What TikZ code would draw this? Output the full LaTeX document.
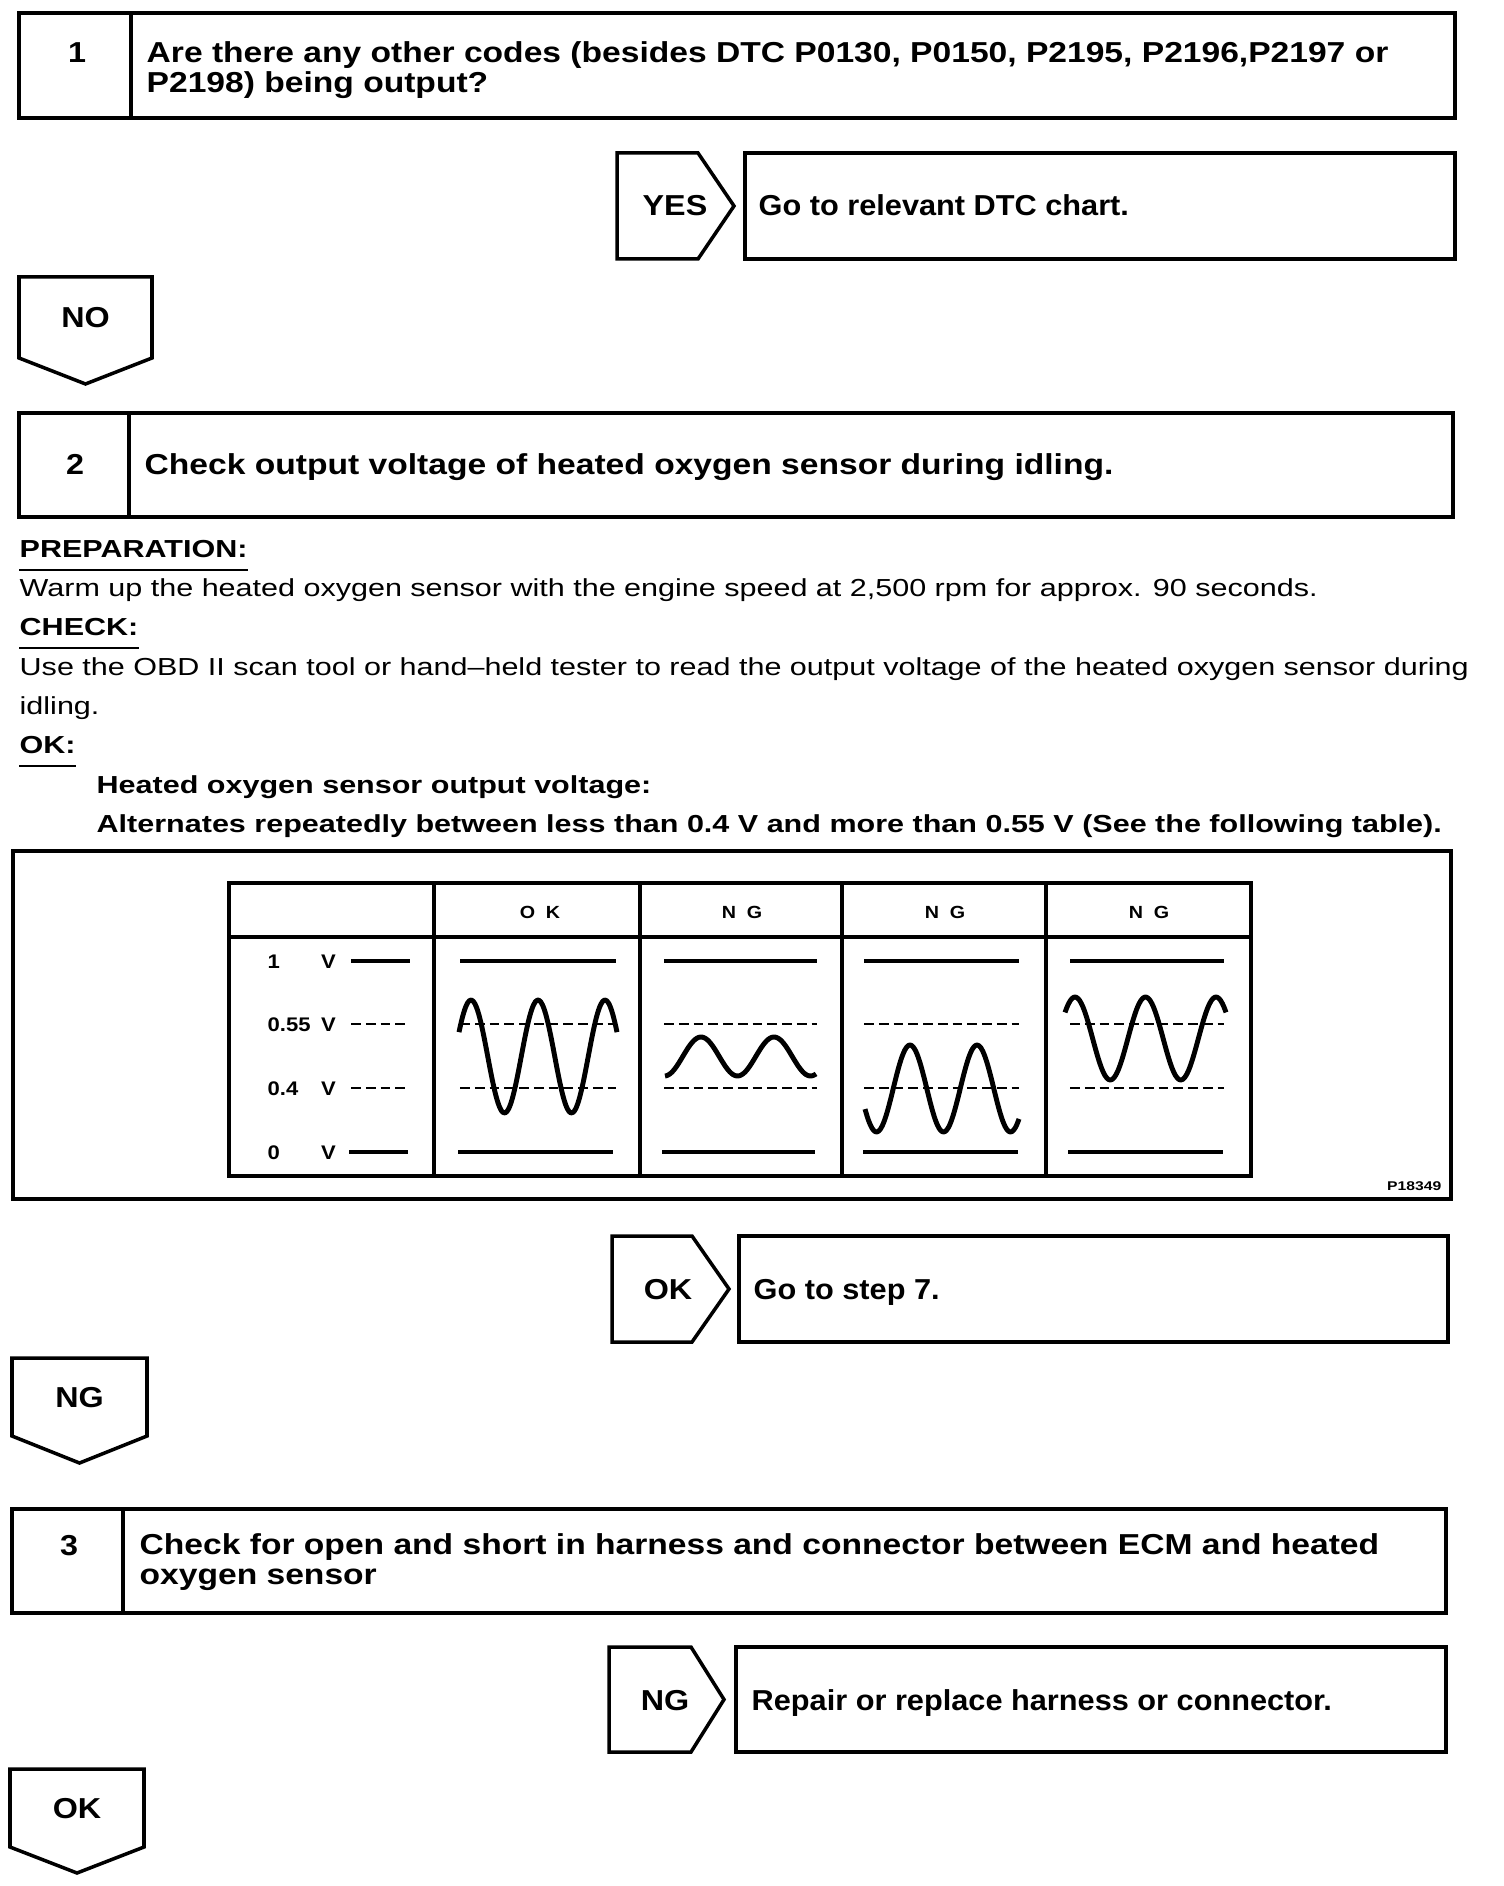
\documentclass[tikz,border=0pt]{standalone}
\usepackage{fontspec}
\setmainfont{Liberation Sans}[FakeStretch=1.12]
\newfontfamily\widefont{Liberation Sans}[FakeStretch=1.24]
\newfontfamily\askfont{Liberation Sans}[FakeStretch=1.165]
\newfontfamily\resfont{Liberation Sans}[FakeStretch=1.065]
\usepackage{tikz}
\newcommand\stepfont{\askfont\fontsize{8.2}{8.5}\selectfont\bfseries}
\newcommand\resultfont{\resfont\fontsize{8.2}{8.5}\selectfont\bfseries}
\newcommand\tagfont{\fontsize{8.2}{8.5}\selectfont\bfseries}
\newcommand\bodyfont{\widefont\fontsize{7}{8}\selectfont}
\newcommand\chartfont{\fontsize{5.6}{6}\selectfont\bfseries}
\tikzset{
  frame/.style={draw=black,line width=1pt,line join=miter},
  steptext/.style={inner sep=0pt,align=left,anchor=west,font=\stepfont},
  tag/.style={inner sep=0pt,anchor=base,font=\tagfont},
  result/.style={inner sep=0pt,anchor=base west,font=\resultfont},
  body/.style={inner sep=0pt,anchor=base west,font=\bodyfont},
  uline/.style={line width=.6pt},
  level/.style={inner sep=0pt,anchor=base west,text width=.68cm,align=left,font=\chartfont},
  head/.style={inner sep=0pt,anchor=base,font=\fontsize{5}{6}\selectfont\bfseries},
  solidlvl/.style={line width=1pt},
  dashlvl/.style={line width=.8pt,dash pattern=on 2.8pt off 1.4pt},
  wave/.style={line width=1.4pt,line join=round},
}

\begin{document}
\begin{tikzpicture}[x=0.01cm,y=-0.01cm]
  \useasboundingbox (0,0) rectangle (1504,1886);

  % step 1
  \draw[frame] (19,13) rectangle (1455,118);
  \draw[frame] (131,13) -- (131,118);
  \node[tag] (n1) at (77,63) {1};
  \node[steptext] (q1) at (146,70.5) {Are there any other codes (besides DTC P0130, P0150, P2195, P2196,P2197 or\\P2198) being output?};

  \draw[frame] (617,153) -- (698,153) -- (734,206) -- (698,259) -- (617,259) -- cycle;
  \node[tag] (yes1) at (675,216) {YES};
  \draw[frame] (745,153) rectangle (1455,259);
  \node[result] (r1) at (758,216) {Go to relevant DTC chart.};

  \draw[frame] (19,277) -- (152,277) -- (152,358) -- (85.5,384) -- (19,358) -- cycle;
  \node[tag] (no1) at (85.5,328) {NO};

  % step 2
  \draw[frame] (19,413) rectangle (1453,517);
  \draw[frame] (129,413) -- (129,517);
  \node[tag] (n2) at (75,475) {2};
  \node[steptext,anchor=base west] (q2) at (144,475) {Check output voltage of heated oxygen sensor during idling.};

  \node[body] (prep) at (19,558) {\bfseries PREPARATION:};
  \draw[uline] ([yshift=-3.5pt]prep.base west) -- ([yshift=-3.5pt]prep.base east);
  \node[body] (warm) at (19,597) {Warm up the heated oxygen sensor with the engine speed at 2,500 rpm for approx. 90 seconds.};
  \node[body] (chk) at (19,636) {\bfseries CHECK:};
  \draw[uline] ([yshift=-3.5pt]chk.base west) -- ([yshift=-3.5pt]chk.base east);
  \node[body] (use1) at (19,676) {Use the OBD II scan tool or hand–held tester to read the output voltage of the heated oxygen sensor during};
  \node[body] (use2) at (19,715) {idling.};
  \node[body] (ok) at (19,754) {\bfseries OK:};
  \draw[uline] ([yshift=-3.5pt]ok.base west) -- ([yshift=-3.5pt]ok.base east);
  \node[body] (spec1) at (96,794) {\bfseries Heated oxygen sensor output voltage:};
  \node[body] (spec2) at (96,833) {\bfseries Alternates repeatedly between less than 0.4 V and more than 0.55 V (See the following table).};

  % voltage chart
  \draw[frame] (13,851) rectangle (1451,1199);
  \draw[frame] (229,883) rectangle (1251,1176);
  \draw[frame] (229,937) -- (1251,937);
  \draw[frame] (434,883) -- (434,1176) (640,883) -- (640,1176)
               (842,883) -- (842,1176) (1046,883) -- (1046,1176);
  \node[head] (hok) at (540,918) {O \hspace{1.5pt}K};
  \node[head] (hng1) at (742,918) {N \hspace{1.5pt}G};
  \node[head] (hng2) at (945,918) {N \hspace{1.5pt}G};
  \node[head] (hng3) at (1149,918) {N \hspace{1.5pt}G};

  \node[level] (v1) at (267,968) {1 \hspace{\fill}V};
  \node[level] (v055) at (267,1031) {0.55 \hspace{\fill}V};
  \node[level] (v04) at (267,1095) {0.4 \hspace{\fill}V};
  \node[level] (v0) at (267,1159) {0 \hspace{\fill}V};

  \draw[solidlvl] (351,961) -- (410,961) (460,961) -- (616,961) (664,961) -- (817,961)
                  (864,961) -- (1019,961) (1070,961) -- (1224,961);
  \draw[dashlvl] (351,1024) -- (410,1024) (460,1024) -- (616,1024) (664,1024) -- (817,1024)
                 (864,1024) -- (1019,1024) (1070,1024) -- (1224,1024);
  \draw[dashlvl] (351,1088) -- (410,1088) (460,1088) -- (616,1088) (664,1088) -- (817,1088)
                 (864,1088) -- (1019,1088) (1070,1088) -- (1224,1088);
  \draw[solidlvl] (349,1152) -- (408,1152) (458,1152) -- (613,1152) (662,1152) -- (815,1152)
                  (863,1152) -- (1018,1152) (1068,1152) -- (1223,1152);

  \draw[wave] plot[domain=459:617,samples=90,smooth] (\x,{1056.5-56.5*cos((\x-471)/67*360)});
  \draw[wave] plot[domain=665:816,samples=90,smooth] (\x,{1056.5-19.5*cos((\x-701)/73*360)});
  \draw[wave] plot[domain=865:1019,samples=90,smooth] (\x,{1088.5-43.5*cos((\x-910)/67*360)});
  \draw[wave] plot[domain=1065:1226,samples=90,smooth] (\x,{1038.5-41.5*cos((\x-1075)/70.5*360)});

  \node[inner sep=0pt,anchor=base east,font=\widefont\fontsize{3.6}{4}\selectfont\bfseries] (fig) at (1442,1190) {P18349};

  \draw[frame] (612,1236) -- (692,1236) -- (729,1289) -- (692,1342) -- (612,1342) -- cycle;
  \node[tag] (ok2) at (668,1299) {OK};
  \draw[frame] (739,1236) rectangle (1448,1342);
  \node[result] (r2) at (753,1299) {Go to step 7.};

  \draw[frame] (12,1358) -- (147,1358) -- (147,1436) -- (79.5,1463) -- (12,1436) -- cycle;
  \node[tag] (ng2) at (79.5,1407) {NG};

  % step 3
  \draw[frame] (12,1509) rectangle (1446,1613);
  \draw[frame] (123,1509) -- (123,1613);
  \node[tag] (n3) at (69,1555) {3};
  \node[steptext] (q3) at (139,1562.5) {Check for open and short in harness and connector between ECM and heated\\oxygen sensor};

  \draw[frame] (609,1647) -- (691,1647) -- (724,1699.5) -- (691,1752) -- (609,1752) -- cycle;
  \node[tag] (ng3) at (665,1710) {NG};
  \draw[frame] (736,1647) rectangle (1446,1752);
  \node[result] (r3) at (751,1710) {Repair or replace harness or connector.};

  \draw[frame] (10,1769) -- (144,1769) -- (144,1847) -- (77,1873) -- (10,1847) -- cycle;
  \node[tag] (ok3) at (77,1818) {OK};
\end{tikzpicture}
\end{document}
